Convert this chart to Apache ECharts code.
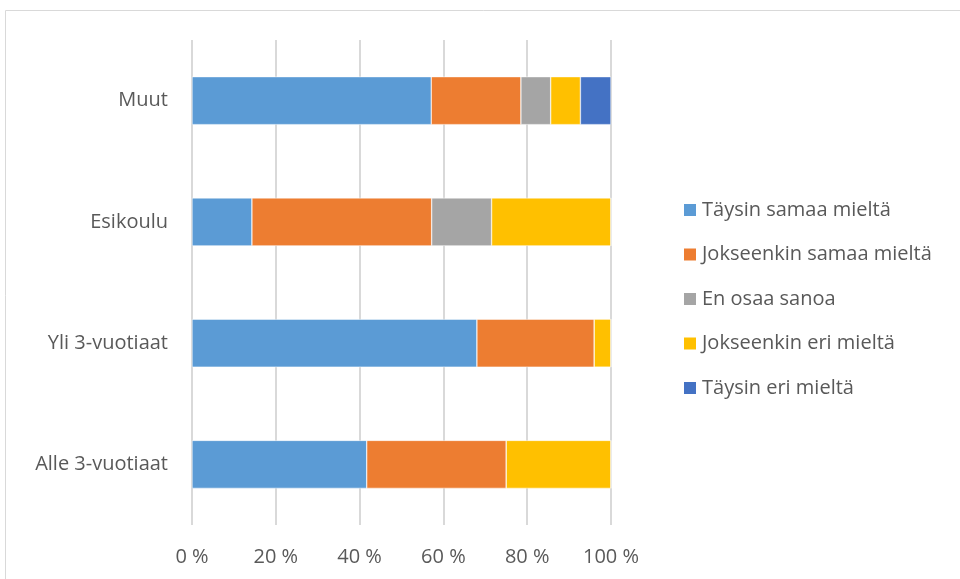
<!DOCTYPE html>
<html><head><meta charset="utf-8">
<script src="https://cdn.jsdelivr.net/npm/echarts@6/dist/echarts.min.js"></script>
<style>html,body{margin:0;padding:0;background:#fff}#c{width:960px;height:579px}</style>
</head><body><div id="c"></div>
<script>
const categories = ['Alle 3-vuotiaat', 'Yli 3-vuotiaat', 'Esikoulu', 'Muut'];
const seriesNames = ['Täysin samaa mieltä', 'Jokseenkin samaa mieltä', 'En osaa sanoa', 'Jokseenkin eri mieltä', 'Täysin eri mieltä'];
const taysinSamaa = [41.7, 68, 14.3, 57.1];
const jokseenkinSamaa = [33.3, 28, 42.9, 21.4];
const enOsaa = [0, 0, 14.3, 7.1];
const jokseenkinEri = [25, 4, 28.5, 7.1];
const taysinEri = [0, 0, 0, 7.3];
const colors = ['#5B9BD5', '#ED7D31', '#A5A5A5', '#FFC000', '#4472C4'];
const values = [taysinSamaa, jokseenkinSamaa, enOsaa, jokseenkinEri, taysinEri];
const font = '"Open Sans", sans-serif';
const chart = echarts.init(document.getElementById('c'));
chart.setOption({
  animation: false,
  color: colors,
  graphic: [{type:'rect', shape:{x:5.5, y:10.5, width:1000, height:1000}, style:{fill:'none', stroke:'#d9d9d9', lineWidth:1}, silent:true}],
  grid: {left:192, right:349, top:40, bottom:54},
  legend: {
    orient:'vertical', left:677, top:195, itemWidth:14, itemHeight:14, itemGap:24.5,
    icon:'rect',
    textStyle:{fontFamily:font, fontSize:20, color:'#595959', padding:[0,0,0,0]},
    data: seriesNames
  },
  xAxis: {
    type:'value', min:0, max:100, interval:20,
    axisLabel:{formatter: v => v + ' %', fontFamily:font, fontSize:20, color:'#595959', margin:22},
    splitLine:{lineStyle:{color:'#d9d9d9', width:2}},
    axisLine:{show:false}, axisTick:{show:false}
  },
  yAxis: {
    type:'category', data:categories,
    axisLabel:{fontFamily:font, fontSize:20, color:'#595959', margin:24},
    axisLine:{show:false}, axisTick:{show:false}
  },
  series: seriesNames.map((n,i)=>({
    name:n, type:'bar', stack:'total', barWidth:48, data:values[i],
    itemStyle:{color:colors[i], borderColor:'#fff', borderWidth:0.5}
  }))
});
</script></body></html>
